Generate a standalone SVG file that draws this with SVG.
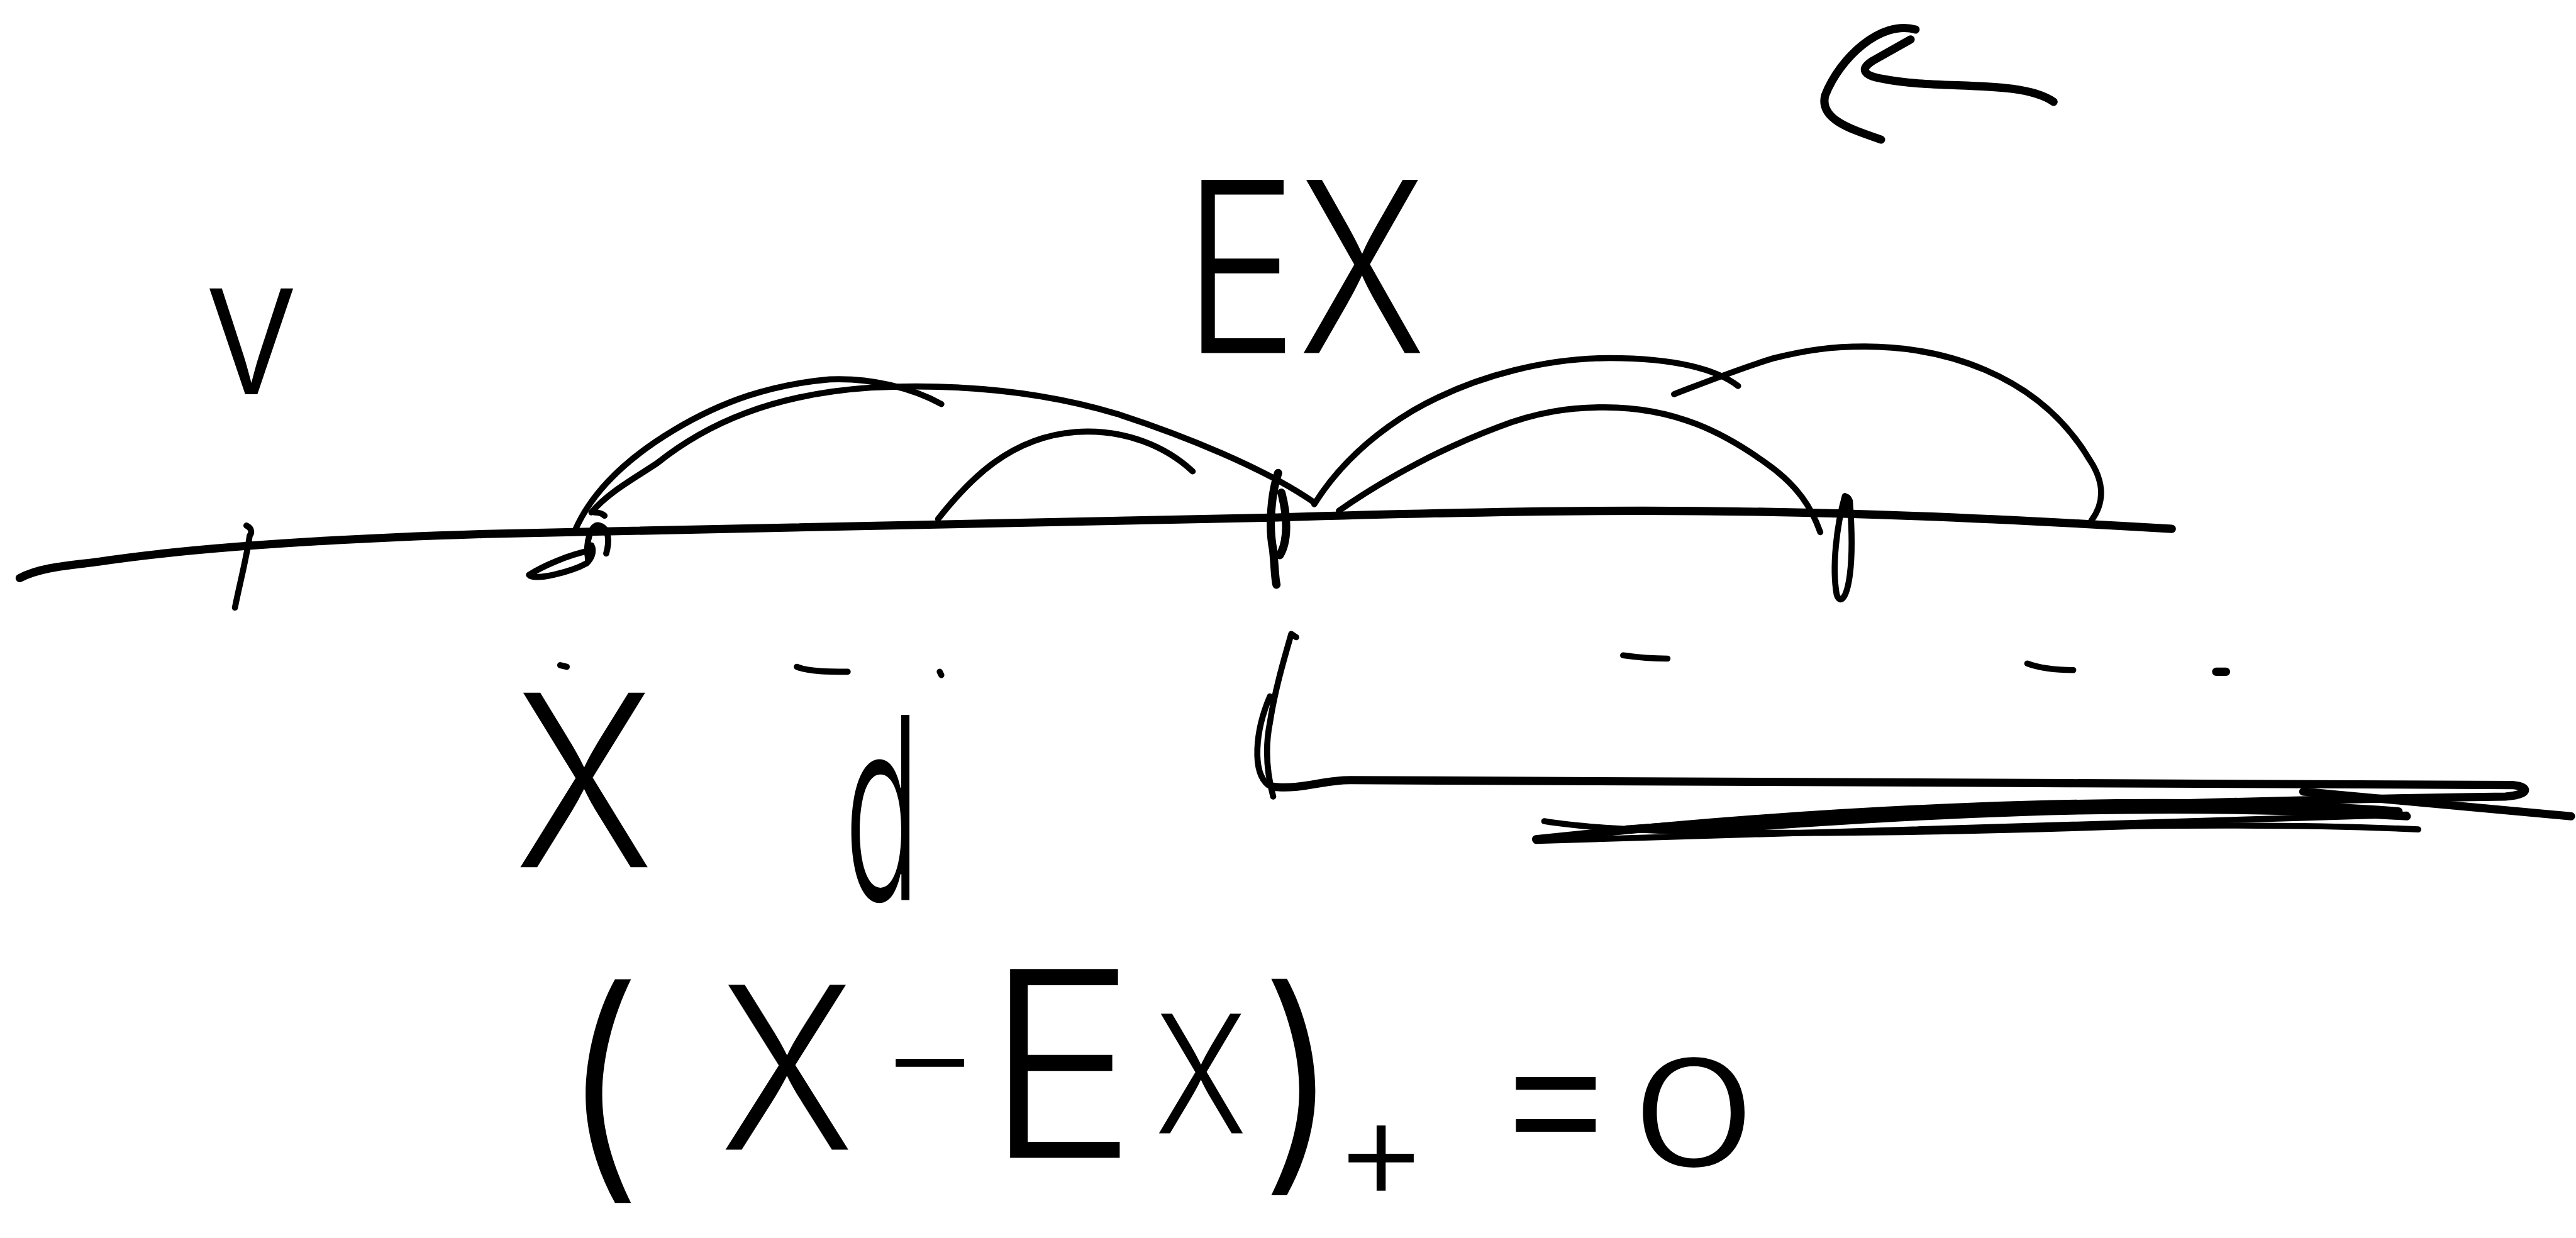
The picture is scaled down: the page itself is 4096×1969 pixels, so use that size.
<svg xmlns="http://www.w3.org/2000/svg" width="4096" height="1969" viewBox="0 0 4096 1969">
<style>
.s{fill:none;stroke:#000;stroke-width:3.7;stroke-linecap:round;stroke-linejoin:round}
.b{stroke-width:5}
.t{font-family:Inter,"Noto Sans","Liberation Sans",sans-serif;font-weight:300;fill:#000}
</style>
<rect width="4096" height="1969" fill="#fff"/>
<g transform="scale(2.6122)">
<g id="axis">
<path class="s b" d="M12,352 C25,345 45,344 60,342 C120,333 200,328 300,325 C450,322 600,320 780,315 C880,312 950,311 1000,311 C1120,311 1220,316 1322,322"/>
</g>
<g id="ticks">
<path class="s" d="M150,320 C154,322 153,325 152,326 C150,340 146,355 143,370"/>
<path class="s" d="M360,335 C345,338 330,345 322,350 C325,354 348,348 357,343 C360,340 362,336 360,332"/>
<path class="s" d="M358,341 C356,330 360,318 365,320 C371,322 371,330 369,337"/>
<path class="s" d="M362,312 C365,312 367,313 368,314"/>
<path class="s b" d="M778,288 C774,300 772,320 775,335 C776,345 776,352 777,356 M780,300 C784,315 784,330 779,338"/>
<path class="s" d="M1123,302 C1118,320 1115,345 1118,362 C1120,368 1124,365 1126,350 C1128,335 1127,318 1126,305 C1124,300 1121,303 1123,310"/>
</g>
<g id="connectors">
<path class="s" d="M350,323 C360,300 380,280 410,262 C440,244 470,234 505,231 C530,230 555,236 573,246"/>
<path class="s" d="M360,312 C370,300 385,292 400,282 C430,258 470,240 530,236 C590,233 640,240 680,252 C720,265 770,285 800,306"/>
<path class="s" d="M571,316 C590,292 615,266 655,263 C685,261 710,272 726,287"/>
<path class="s" d="M800,307 C815,283 835,265 860,250 C900,227 945,218 980,218 C1020,218 1045,225 1058,235"/>
<path class="s" d="M815,311 C845,290 880,272 912,260 C935,251 955,248 977,248 C1020,248 1050,264 1075,282 C1095,296 1103,310 1108,324"/>
<path class="s" d="M1019,240 C1040,232 1060,224 1080,218 C1100,213 1115,211 1135,211 C1180,211 1240,226 1272,280 C1280,292 1282,305 1273,317"/>
</g>
<g id="marks">
<path class="s" d="M341,405 L345,406"/>
<path class="s" d="M485,406 C492,409 505,409 516,409"/>
<path class="s" d="M572,409 L573,411"/>
<path class="s" d="M988,399 C995,400 1005,401 1015,401"/>
<path class="s" d="M1234,404 C1242,407 1252,408 1262,408"/>
<path class="s b" d="M1349,409 L1355,409"/>
</g>
<g id="scribble">
<path class="s" d="M789,388 L786,386 C782,400 776,420 773,440 C770,455 771,470 775,485"/>
<path class="s" d="M773,424 C764,445 762,470 772,478"/>
<path class="s b" d="M775,479 C792,481 805,475 822,475 C1000,474 1300,478 1530,478 C1540,479 1540,484 1525,485 C1300,488 1100,497 990,505"/>
<path class="s b" d="M935,511 C1100,493 1300,482 1460,494"/>
<path class="s" d="M940,500 C1000,510 1150,508 1300,503 C1380,502 1430,503 1472,505"/>
<path class="s b" d="M1030,506 C1150,497 1300,487 1465,497"/>
<path class="s b" d="M1402,482 L1565,497"/>
<path class="s" d="M935,512 C1050,508 1200,504 1465,496"/>
</g>
<g id="arrow">
<path class="s b" d="M1166,18 C1145,12 1120,35 1111,58 C1107,73 1128,79 1145,85"/>
<path class="s b" d="M1163,24 L1140,37 C1132,42 1134,46 1146,48 C1180,55 1230,48 1250,62"/>
</g>
<g id="labels">
<text class="t" x="124" y="240" font-size="118" textLength="58" lengthAdjust="spacingAndGlyphs">v</text>
<text class="t" x="720" y="215" font-size="145" textLength="148" lengthAdjust="spacingAndGlyphs">EX</text>
<text class="t" x="313" y="528" font-size="146" textLength="85" lengthAdjust="spacingAndGlyphs">X</text>
<text class="t" x="514" y="548" font-size="155" textLength="46" lengthAdjust="spacingAndGlyphs">d</text>
<text class="t" x="340" y="712" font-size="150">(</text>
<text class="t" x="438" y="700" font-size="138" textLength="82" lengthAdjust="spacingAndGlyphs">X</text>
<text class="t" x="535" y="672" font-size="80" textLength="62" lengthAdjust="spacingAndGlyphs">-</text>
<text class="t" x="600" y="705" font-size="158" textLength="92" lengthAdjust="spacingAndGlyphs">E</text>
<text class="t" x="703" y="690" font-size="100" textLength="56" lengthAdjust="spacingAndGlyphs">X</text>
<text class="t" x="766" y="708" font-size="145">)</text>
<text class="t" x="812" y="730" font-size="88">+</text>
<text class="t" x="908" y="708" font-size="125" textLength="78" lengthAdjust="spacingAndGlyphs">=</text>
<text class="t" x="992" y="710" font-size="90" textLength="78" lengthAdjust="spacingAndGlyphs">0</text>
</g>
</g>
</svg>
